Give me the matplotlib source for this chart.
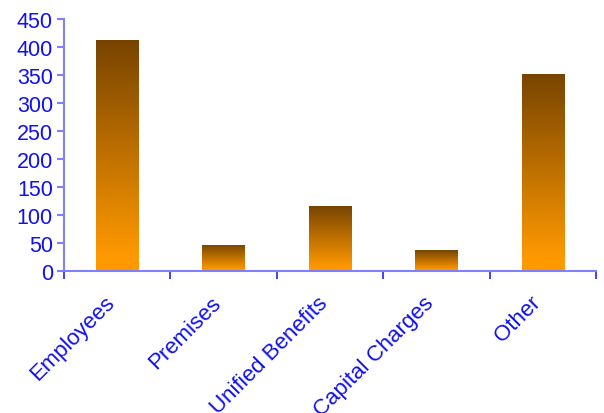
import numpy as np
import matplotlib
matplotlib.use("Agg")
import matplotlib.pyplot as plt
from matplotlib.colors import LinearSegmentedColormap
from matplotlib.transforms import ScaledTranslation

categories = ["Employees", "Premises", "Unified Benefits", "Capital Charges", "Other"]
values = [412, 47, 116, 37, 352]
yticks = [0, 50, 100, 150, 200, 250, 300, 350, 400, 450]

plt.rcParams['font.family'] = ['Liberation Sans', 'DejaVu Sans']

fig = plt.figure(figsize=(6.04, 4.14), dpi=100)
ax = fig.add_axes([64/604, (414-272)/414, (596-64)/604, (272-20)/414])

n = len(categories)
x = np.arange(n)
width = 0.4
bars = ax.bar(x, values, width=width, color='none', edgecolor='none', zorder=2)

cmap = LinearSegmentedColormap.from_list('g', [(0, '#FF9900'), (0.06, '#FF9900'), (1, '#774400')])
grad = np.linspace(0, 1, 256).reshape(-1, 1)
for b in bars:
    x0, y0 = b.get_x(), b.get_y()
    w, h = b.get_width(), b.get_height()
    im = ax.imshow(grad, cmap=cmap, origin='lower', aspect='auto',
                   extent=[x0, x0 + w, y0, y0 + h], zorder=2, interpolation='bilinear')
    im.set_clip_path(b)

ax.set_xlim(-0.5, n - 0.5)
ax.set_ylim(0, 450)
ax.set_yticks(yticks)
ax.set_yticklabels([str(v) for v in yticks])

blue = '#1010F0'
axcol = '#8080FF'
for s in ['top', 'right']:
    ax.spines[s].set_visible(False)
for s in ['left', 'bottom']:
    ax.spines[s].set_color(axcol)
    ax.spines[s].set_linewidth(1.5)

ax.tick_params(axis='y', colors=axcol, labelcolor=blue, labelsize=15.5, length=5, width=1.5, direction='out', pad=3)
ax.set_xticks(np.arange(-0.5, n, 1.0))
ax.set_xticklabels([])
ax.tick_params(axis='x', colors='#2020FF', length=6, width=1.2, direction='out')
ax.set_xticks(x, minor=True)
ax.set_xticklabels(categories, minor=True, rotation=45, ha='right', rotation_mode='anchor',
                   color=blue, fontsize=16)
ax.tick_params(axis='x', which='minor', length=0, pad=15)
off = ScaledTranslation(-13/100, 0, fig.dpi_scale_trans)
for lab in ax.get_xticklabels(minor=True):
    lab.set_transform(lab.get_transform() + off)

fig.savefig('out.png', dpi=100)
